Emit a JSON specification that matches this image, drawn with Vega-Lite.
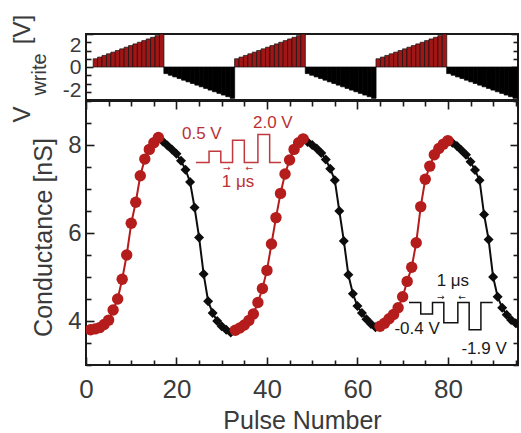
{
"$schema": "https://vega.github.io/schema/vega-lite/v6.json",
"padding": {"left": 9, "top": 13, "right": 0, "bottom": 0},
"spacing": 1,
"bounds": "flush",
"config": {
  "font": "Liberation Sans",
  "view": {"stroke": "#1a1a1a", "strokeWidth": 2},
  "axis": {"labelColor": "#3a3a3a", "titleColor": "#3a3a3a", "labelFont": "Liberation Sans", "titleFont": "Liberation Sans", "titleFontWeight": "normal", "grid": false, "domain": false, "tickColor": "#1a1a1a", "tickWidth": 1.6}
},
"datasets": {
  "pulses": [
    {"p":1,"v":0.5,"ph":"pot"},{"p":2,"v":0.6,"ph":"pot"},{"p":3,"v":0.7,"ph":"pot"},{"p":4,"v":0.8,"ph":"pot"},{"p":5,"v":0.9,"ph":"pot"},{"p":6,"v":1.0,"ph":"pot"},{"p":7,"v":1.1,"ph":"pot"},{"p":8,"v":1.2,"ph":"pot"},{"p":9,"v":1.3,"ph":"pot"},{"p":10,"v":1.4,"ph":"pot"},{"p":11,"v":1.5,"ph":"pot"},{"p":12,"v":1.6,"ph":"pot"},{"p":13,"v":1.7,"ph":"pot"},{"p":14,"v":1.8,"ph":"pot"},{"p":15,"v":1.9,"ph":"pot"},{"p":16,"v":2.0,"ph":"pot"},
    {"p":17,"v":-0.4,"ph":"dep"},{"p":18,"v":-0.5,"ph":"dep"},{"p":19,"v":-0.6,"ph":"dep"},{"p":20,"v":-0.7,"ph":"dep"},{"p":21,"v":-0.8,"ph":"dep"},{"p":22,"v":-0.9,"ph":"dep"},{"p":23,"v":-1.0,"ph":"dep"},{"p":24,"v":-1.1,"ph":"dep"},{"p":25,"v":-1.2,"ph":"dep"},{"p":26,"v":-1.3,"ph":"dep"},{"p":27,"v":-1.4,"ph":"dep"},{"p":28,"v":-1.5,"ph":"dep"},{"p":29,"v":-1.6,"ph":"dep"},{"p":30,"v":-1.7,"ph":"dep"},{"p":31,"v":-1.8,"ph":"dep"},{"p":32,"v":-1.9,"ph":"dep"},
    {"p":33,"v":0.5,"ph":"pot"},{"p":34,"v":0.6,"ph":"pot"},{"p":35,"v":0.7,"ph":"pot"},{"p":36,"v":0.8,"ph":"pot"},{"p":37,"v":0.9,"ph":"pot"},{"p":38,"v":1.0,"ph":"pot"},{"p":39,"v":1.1,"ph":"pot"},{"p":40,"v":1.2,"ph":"pot"},{"p":41,"v":1.3,"ph":"pot"},{"p":42,"v":1.4,"ph":"pot"},{"p":43,"v":1.5,"ph":"pot"},{"p":44,"v":1.6,"ph":"pot"},{"p":45,"v":1.7,"ph":"pot"},{"p":46,"v":1.8,"ph":"pot"},{"p":47,"v":1.9,"ph":"pot"},{"p":48,"v":2.0,"ph":"pot"},
    {"p":49,"v":-0.4,"ph":"dep"},{"p":50,"v":-0.5,"ph":"dep"},{"p":51,"v":-0.6,"ph":"dep"},{"p":52,"v":-0.7,"ph":"dep"},{"p":53,"v":-0.8,"ph":"dep"},{"p":54,"v":-0.9,"ph":"dep"},{"p":55,"v":-1.0,"ph":"dep"},{"p":56,"v":-1.1,"ph":"dep"},{"p":57,"v":-1.2,"ph":"dep"},{"p":58,"v":-1.3,"ph":"dep"},{"p":59,"v":-1.4,"ph":"dep"},{"p":60,"v":-1.5,"ph":"dep"},{"p":61,"v":-1.6,"ph":"dep"},{"p":62,"v":-1.7,"ph":"dep"},{"p":63,"v":-1.8,"ph":"dep"},{"p":64,"v":-1.9,"ph":"dep"},
    {"p":65,"v":0.5,"ph":"pot"},{"p":66,"v":0.6,"ph":"pot"},{"p":67,"v":0.7,"ph":"pot"},{"p":68,"v":0.8,"ph":"pot"},{"p":69,"v":0.9,"ph":"pot"},{"p":70,"v":1.0,"ph":"pot"},{"p":71,"v":1.1,"ph":"pot"},{"p":72,"v":1.2,"ph":"pot"},{"p":73,"v":1.3,"ph":"pot"},{"p":74,"v":1.4,"ph":"pot"},{"p":75,"v":1.5,"ph":"pot"},{"p":76,"v":1.6,"ph":"pot"},{"p":77,"v":1.7,"ph":"pot"},{"p":78,"v":1.8,"ph":"pot"},{"p":79,"v":1.9,"ph":"pot"},{"p":80,"v":2.0,"ph":"pot"},
    {"p":81,"v":-0.4,"ph":"dep"},{"p":82,"v":-0.5,"ph":"dep"},{"p":83,"v":-0.6,"ph":"dep"},{"p":84,"v":-0.7,"ph":"dep"},{"p":85,"v":-0.8,"ph":"dep"},{"p":86,"v":-0.9,"ph":"dep"},{"p":87,"v":-1.0,"ph":"dep"},{"p":88,"v":-1.1,"ph":"dep"},{"p":89,"v":-1.2,"ph":"dep"},{"p":90,"v":-1.3,"ph":"dep"},{"p":91,"v":-1.4,"ph":"dep"},{"p":92,"v":-1.5,"ph":"dep"},{"p":93,"v":-1.6,"ph":"dep"},{"p":94,"v":-1.7,"ph":"dep"},{"p":95,"v":-1.8,"ph":"dep"},{"p":96,"v":-1.9,"ph":"dep"}
  ],
  "cond": [
    {"p":1,"g":3.80,"ph":"pot","c":1},{"p":2,"g":3.82,"ph":"pot","c":1},{"p":3,"g":3.85,"ph":"pot","c":1},{"p":4,"g":3.92,"ph":"pot","c":1},{"p":5,"g":4.02,"ph":"pot","c":1},{"p":6,"g":4.25,"ph":"pot","c":1},{"p":7,"g":4.50,"ph":"pot","c":1},{"p":8,"g":4.95,"ph":"pot","c":1},{"p":9,"g":5.50,"ph":"pot","c":1},{"p":10,"g":6.22,"ph":"pot","c":1},{"p":11,"g":6.70,"ph":"pot","c":1},{"p":12,"g":7.30,"ph":"pot","c":1},{"p":13,"g":7.68,"ph":"pot","c":1},{"p":14,"g":7.90,"ph":"pot","c":1},{"p":15,"g":8.05,"ph":"pot","c":1},{"p":16,"g":8.17,"ph":"pot","c":1},
    {"p":17,"g":8.08,"ph":"dep","c":1},{"p":18,"g":7.99,"ph":"dep","c":1},{"p":19,"g":7.90,"ph":"dep","c":1},{"p":20,"g":7.80,"ph":"dep","c":1},{"p":21,"g":7.64,"ph":"dep","c":1},{"p":22,"g":7.44,"ph":"dep","c":1},{"p":23,"g":7.16,"ph":"dep","c":1},{"p":24,"g":6.58,"ph":"dep","c":1},{"p":25,"g":5.90,"ph":"dep","c":1},{"p":26,"g":5.07,"ph":"dep","c":1},{"p":27,"g":4.45,"ph":"dep","c":1},{"p":28,"g":4.18,"ph":"dep","c":1},{"p":29,"g":4.00,"ph":"dep","c":1},{"p":30,"g":3.88,"ph":"dep","c":1},{"p":31,"g":3.80,"ph":"dep","c":1},{"p":32,"g":3.74,"ph":"dep","c":1},
    {"p":33,"g":3.79,"ph":"pot","c":2},{"p":34,"g":3.84,"ph":"pot","c":2},{"p":35,"g":3.91,"ph":"pot","c":2},{"p":36,"g":4.01,"ph":"pot","c":2},{"p":37,"g":4.16,"ph":"pot","c":2},{"p":38,"g":4.42,"ph":"pot","c":2},{"p":39,"g":4.74,"ph":"pot","c":2},{"p":40,"g":5.15,"ph":"pot","c":2},{"p":41,"g":5.75,"ph":"pot","c":2},{"p":42,"g":6.35,"ph":"pot","c":2},{"p":43,"g":6.90,"ph":"pot","c":2},{"p":44,"g":7.34,"ph":"pot","c":2},{"p":45,"g":7.66,"ph":"pot","c":2},{"p":46,"g":7.90,"ph":"pot","c":2},{"p":47,"g":8.05,"ph":"pot","c":2},{"p":48,"g":8.14,"ph":"pot","c":2},
    {"p":49,"g":8.07,"ph":"dep","c":2},{"p":50,"g":8.00,"ph":"dep","c":2},{"p":51,"g":7.92,"ph":"dep","c":2},{"p":52,"g":7.82,"ph":"dep","c":2},{"p":53,"g":7.67,"ph":"dep","c":2},{"p":54,"g":7.46,"ph":"dep","c":2},{"p":55,"g":7.20,"ph":"dep","c":2},{"p":56,"g":6.50,"ph":"dep","c":2},{"p":57,"g":5.82,"ph":"dep","c":2},{"p":58,"g":5.05,"ph":"dep","c":2},{"p":59,"g":4.62,"ph":"dep","c":2},{"p":60,"g":4.34,"ph":"dep","c":2},{"p":61,"g":4.18,"ph":"dep","c":2},{"p":62,"g":4.04,"ph":"dep","c":2},{"p":63,"g":3.93,"ph":"dep","c":2},{"p":64,"g":3.86,"ph":"dep","c":2},
    {"p":65,"g":3.88,"ph":"pot","c":3},{"p":66,"g":3.95,"ph":"pot","c":3},{"p":67,"g":4.05,"ph":"pot","c":3},{"p":68,"g":4.15,"ph":"pot","c":3},{"p":69,"g":4.30,"ph":"pot","c":3},{"p":70,"g":4.55,"ph":"pot","c":3},{"p":71,"g":4.90,"ph":"pot","c":3},{"p":72,"g":5.22,"ph":"pot","c":3},{"p":73,"g":5.78,"ph":"pot","c":3},{"p":74,"g":6.60,"ph":"pot","c":3},{"p":75,"g":7.22,"ph":"pot","c":3},{"p":76,"g":7.52,"ph":"pot","c":3},{"p":77,"g":7.78,"ph":"pot","c":3},{"p":78,"g":7.92,"ph":"pot","c":3},{"p":79,"g":8.02,"ph":"pot","c":3},{"p":80,"g":8.10,"ph":"pot","c":3},
    {"p":81,"g":8.05,"ph":"dep","c":3},{"p":82,"g":7.98,"ph":"dep","c":3},{"p":83,"g":7.88,"ph":"dep","c":3},{"p":84,"g":7.78,"ph":"dep","c":3},{"p":85,"g":7.62,"ph":"dep","c":3},{"p":86,"g":7.43,"ph":"dep","c":3},{"p":87,"g":7.20,"ph":"dep","c":3},{"p":88,"g":6.42,"ph":"dep","c":3},{"p":89,"g":5.85,"ph":"dep","c":3},{"p":90,"g":5.00,"ph":"dep","c":3},{"p":91,"g":4.55,"ph":"dep","c":3},{"p":92,"g":4.30,"ph":"dep","c":3},{"p":93,"g":4.14,"ph":"dep","c":3},{"p":94,"g":4.02,"ph":"dep","c":3},{"p":95,"g":3.95,"ph":"dep","c":3},{"p":96,"g":3.88,"ph":"dep","c":3}
  ],
  "wave": [
    {"i":1,"p":24.3,"g":7.60,"w":"r"},{"i":2,"p":27.2,"g":7.60,"w":"r"},{"i":3,"p":27.2,"g":7.86,"w":"r"},{"i":4,"p":29.8,"g":7.86,"w":"r"},{"i":5,"p":29.8,"g":7.60,"w":"r"},{"i":6,"p":32.4,"g":7.60,"w":"r"},{"i":7,"p":32.4,"g":8.11,"w":"r"},{"i":8,"p":35.0,"g":8.11,"w":"r"},{"i":9,"p":35.0,"g":7.60,"w":"r"},{"i":10,"p":38.0,"g":7.60,"w":"r"},{"i":11,"p":38.0,"g":8.24,"w":"r"},{"i":12,"p":40.6,"g":8.24,"w":"r"},{"i":13,"p":40.6,"g":7.60,"w":"r"},{"i":14,"p":43.1,"g":7.60,"w":"r"},
    {"i":1,"p":71.4,"g":4.42,"w":"k"},{"i":2,"p":74.0,"g":4.42,"w":"k"},{"i":3,"p":74.0,"g":4.16,"w":"k"},{"i":4,"p":76.6,"g":4.16,"w":"k"},{"i":5,"p":76.6,"g":4.42,"w":"k"},{"i":6,"p":79.1,"g":4.42,"w":"k"},{"i":7,"p":79.1,"g":3.96,"w":"k"},{"i":8,"p":82.2,"g":3.96,"w":"k"},{"i":9,"p":82.2,"g":4.42,"w":"k"},{"i":10,"p":84.7,"g":4.42,"w":"k"},{"i":11,"p":84.7,"g":3.80,"w":"k"},{"i":12,"p":87.3,"g":3.80,"w":"k"},{"i":13,"p":87.3,"g":4.42,"w":"k"},{"i":14,"p":89.9,"g":4.42,"w":"k"}
  ],
  "notes": [
    {"p":25.6,"g":8.25,"t":"0.5 V","w":"r","s":"n"},
    {"p":41.3,"g":8.50,"t":"2.0 V","w":"r","s":"n"},
    {"p":33.6,"g":7.16,"t":"1 μs","w":"r","s":"n"},
    {"p":31.1,"g":7.48,"t":"→","w":"r","s":"a"},
    {"p":36.1,"g":7.48,"t":"←","w":"r","s":"a"},
    {"p":81.1,"g":4.91,"t":"1 μs","w":"k","s":"n"},
    {"p":73.2,"g":3.82,"t":"-0.4 V","w":"k","s":"n"},
    {"p":88.0,"g":3.36,"t":"-1.9 V","w":"k","s":"n"},
    {"p":78.4,"g":4.55,"t":"→","w":"k","s":"a"},
    {"p":83.1,"g":4.55,"t":"←","w":"k","s":"a"}
  ]
},
"vconcat": [
  {
    "width": 432,
    "height": 66,
    "view": {"stroke": "#1a1a1a", "strokeWidth": 2},
    "data": {"name": "pulses"},
    "layer": [
      {
        "transform": [{"filter": "datum.ph == 'pot'"}],
        "mark": {"type": "bar", "orient": "vertical", "width": 4.52, "fill": "#a01616", "stroke": "#111111", "strokeWidth": 0.7},
        "encoding": {
          "x": {"field": "p", "type": "quantitative", "scale": {"domain": [0, 95.5], "nice": false, "zero": false},
                "axis": {"orient": "bottom", "labels": false, "ticks": false, "domain": false, "title": "write", "titleFontSize": 20, "titleAngle": -90, "titleX": -41, "titleY": -26, "titleAlign": "center", "titleBaseline": "alphabetic"}},
          "y": {"field": "v", "type": "quantitative", "scale": {"domain": [-2, 2], "nice": false},
                "axis": {"orient": "left", "values": [-2, -1.5, -1, -0.5, 0, 0.5, 1, 1.5, 2], "labelExpr": "datum.value == 2 ? '2' : datum.value == 0 ? '0' : datum.value == -2 ? '-2' : ''", "labelFontSize": 21, "labelPadding": 12, "labelFlush": true, "labelOverlap": false,
                         "tickSize": {"condition": {"test": "datum.value == 2 || datum.value == 0 || datum.value == -2", "value": -7}, "value": -5},
                         "title": "V", "titleFontSize": 24, "titleAngle": -90, "titleX": -57, "titleY": 80, "titleAlign": "center", "titleBaseline": "alphabetic"}}
        }
      },
      {
        "transform": [{"filter": "datum.ph == 'dep'"}],
        "mark": {"type": "bar", "orient": "vertical", "width": 4.52, "fill": "#000000", "stroke": "#000000", "strokeWidth": 0.7, "clip": true},
        "encoding": {
          "x": {"field": "p", "type": "quantitative", "scale": {"domain": [0, 95.5], "nice": false, "zero": false},
                "axis": {"orient": "top", "labels": false, "ticks": false, "domain": false, "title": "[V]", "titleFontSize": 24, "titleAngle": -90, "titleX": -57, "titleY": -5, "titleAlign": "center", "titleBaseline": "alphabetic"}},
          "y": {"field": "v", "type": "quantitative", "scale": {"domain": [-2, 2], "nice": false},
                "axis": {"orient": "right", "values": [-2, -1.5, -1, -0.5, 0, 0.5, 1, 1.5, 2], "labels": false,
                         "tickSize": {"condition": {"test": "datum.value == 2 || datum.value == 0 || datum.value == -2", "value": -7}, "value": -5}, "title": null}}
        }
      }
    ],
    "resolve": {"axis": {"x": "independent", "y": "independent"}}
  },
  {
    "width": 432,
    "height": 264,
    "view": {"stroke": "#1a1a1a", "strokeWidth": 2},
    "layer": [
      {
        "data": {"name": "cond"},
        "transform": [{"filter": "datum.ph == 'dep'"}],
        "mark": {"type": "line", "color": "#0d0d0d", "strokeWidth": 2, "clip": true},
        "encoding": {
          "x": {"field": "p", "type": "quantitative", "scale": {"domain": [0, 95.5], "nice": false, "zero": false},
                "axis": {"orient": "bottom", "values": [0,5,10,15,20,25,30,35,40,45,50,55,60,65,70,75,80,85,90,95], "labelExpr": "datum.value % 20 === 0 ? '' + datum.value : ''", "labelFlush": false, "labelOverlap": false, "labelFontSize": 26, "labelPadding": 19,
                         "tickSize": {"condition": {"test": "datum.value % 20 === 0", "value": -8}, "value": -5},
                         "title": "Pulse Number", "titleFontSize": 25, "titleBaseline": "alphabetic", "titleY": 63}},
          "y": {"field": "g", "type": "quantitative", "scale": {"domain": [3, 9], "nice": false, "zero": false},
                "axis": {"orient": "left", "values": [3,3.5,4,4.5,5,5.5,6,6.5,7,7.5,8,8.5,9], "labelExpr": "datum.value == 4 ? '4' : datum.value == 6 ? '6' : datum.value == 8 ? '8' : ''", "labelFontSize": 24, "labelPadding": 13, "labelOverlap": false, "labelFlush": false,
                         "tickSize": {"condition": {"test": "datum.value == 4 || datum.value == 6 || datum.value == 8", "value": -8}, "value": -5},
                         "title": "Conductance [nS]", "titleFontSize": 25, "titleAngle": -90, "titleX": -35, "titleY": 136, "titleAlign": "center", "titleBaseline": "alphabetic"}},
          "detail": {"field": "c"}
        }
      },
      {
        "data": {"name": "cond"},
        "transform": [{"filter": "datum.ph == 'pot'"}],
        "mark": {"type": "line", "color": "#b51c1c", "strokeWidth": 2, "clip": true},
        "encoding": {
          "x": {"field": "p", "type": "quantitative", "scale": {"domain": [0, 95.5], "nice": false, "zero": false},
                "axis": {"orient": "top", "values": [0,5,10,15,20,25,30,35,40,45,50,55,60,65,70,75,80,85,90,95], "labels": false,
                         "tickSize": {"condition": {"test": "datum.value % 20 === 0", "value": -8}, "value": -5}, "title": null}},
          "y": {"field": "g", "type": "quantitative", "scale": {"domain": [3, 9], "nice": false, "zero": false},
                "axis": {"orient": "right", "values": [3,3.5,4,4.5,5,5.5,6,6.5,7,7.5,8,8.5,9], "labels": false,
                         "tickSize": {"condition": {"test": "datum.value == 4 || datum.value == 6 || datum.value == 8", "value": -8}, "value": -5}, "title": null}},
          "detail": {"field": "c"}
        }
      },
      {
        "data": {"name": "cond"},
        "transform": [{"filter": "datum.ph == 'dep'"}],
        "mark": {"type": "point", "shape": "diamond", "filled": true, "color": "#0d0d0d", "size": 100, "opacity": 1, "clip": true},
        "encoding": {
          "x": {"field": "p", "type": "quantitative", "scale": {"domain": [0, 95.5], "nice": false, "zero": false}, "axis": null},
          "y": {"field": "g", "type": "quantitative", "scale": {"domain": [3, 9], "nice": false, "zero": false}, "axis": null}
        }
      },
      {
        "data": {"name": "cond"},
        "transform": [{"filter": "datum.ph == 'pot'"}],
        "mark": {"type": "circle", "color": "#b51c1c", "size": 130, "opacity": 1, "clip": true},
        "encoding": {
          "x": {"field": "p", "type": "quantitative", "scale": {"domain": [0, 95.5], "nice": false, "zero": false}, "axis": null},
          "y": {"field": "g", "type": "quantitative", "scale": {"domain": [3, 9], "nice": false, "zero": false}, "axis": null}
        }
      },
      {
        "data": {"name": "wave"},
        "transform": [{"filter": "datum.w == 'r'"}],
        "mark": {"type": "line", "color": "#c0393d", "strokeWidth": 1.5},
        "encoding": {
          "x": {"field": "p", "type": "quantitative", "scale": {"domain": [0, 95.5], "nice": false, "zero": false}, "axis": null},
          "y": {"field": "g", "type": "quantitative", "scale": {"domain": [3, 9], "nice": false, "zero": false}, "axis": null},
          "order": {"field": "i"}
        }
      },
      {
        "data": {"name": "wave"},
        "transform": [{"filter": "datum.w == 'k'"}],
        "mark": {"type": "line", "color": "#111111", "strokeWidth": 1.5},
        "encoding": {
          "x": {"field": "p", "type": "quantitative", "scale": {"domain": [0, 95.5], "nice": false, "zero": false}, "axis": null},
          "y": {"field": "g", "type": "quantitative", "scale": {"domain": [3, 9], "nice": false, "zero": false}, "axis": null},
          "order": {"field": "i"}
        }
      },
      {
        "data": {"name": "notes"},
        "transform": [{"filter": "datum.w == 'r' && datum.s == 'n'"}],
        "mark": {"type": "text", "color": "#bb3035", "fontSize": 17, "font": "Liberation Sans"},
        "encoding": {
          "x": {"field": "p", "type": "quantitative", "scale": {"domain": [0, 95.5], "nice": false, "zero": false}, "axis": null},
          "y": {"field": "g", "type": "quantitative", "scale": {"domain": [3, 9], "nice": false, "zero": false}, "axis": null},
          "text": {"field": "t"}
        }
      },
      {
        "data": {"name": "notes"},
        "transform": [{"filter": "datum.w == 'k' && datum.s == 'n'"}],
        "mark": {"type": "text", "color": "#1a1a1a", "fontSize": 17, "font": "Liberation Sans"},
        "encoding": {
          "x": {"field": "p", "type": "quantitative", "scale": {"domain": [0, 95.5], "nice": false, "zero": false}, "axis": null},
          "y": {"field": "g", "type": "quantitative", "scale": {"domain": [3, 9], "nice": false, "zero": false}, "axis": null},
          "text": {"field": "t"}
        }
      },
      {
        "data": {"name": "notes"},
        "transform": [{"filter": "datum.s == 'a'"}],
        "mark": {"type": "text", "fontSize": 9, "font": "DejaVu Sans"},
        "encoding": {
          "x": {"field": "p", "type": "quantitative", "scale": {"domain": [0, 95.5], "nice": false, "zero": false}, "axis": null},
          "y": {"field": "g", "type": "quantitative", "scale": {"domain": [3, 9], "nice": false, "zero": false}, "axis": null},
          "text": {"field": "t"},
          "color": {"field": "w", "type": "nominal", "scale": {"domain": ["r", "k"], "range": ["#bb3035", "#1a1a1a"]}, "legend": null}
        }
      }
    ],
    "resolve": {"axis": {"x": "independent", "y": "independent"}}
  }
]
}
